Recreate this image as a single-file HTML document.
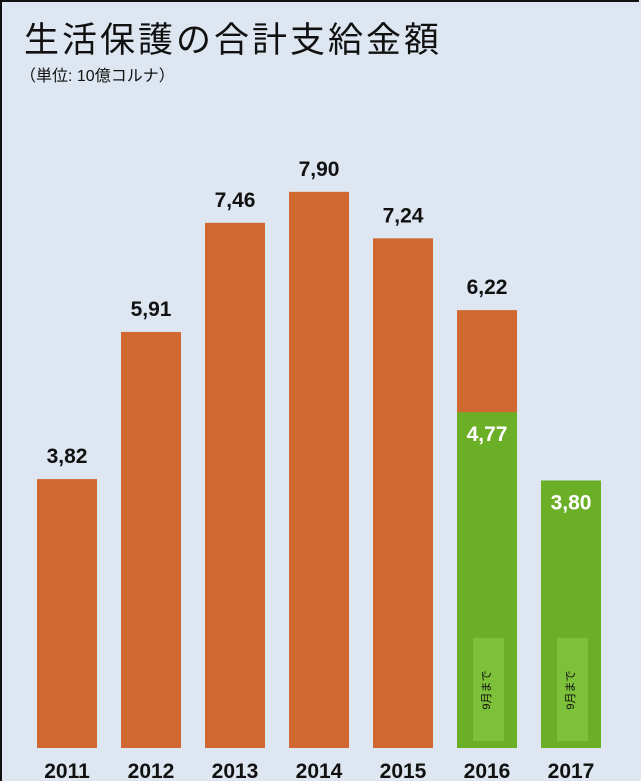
<!DOCTYPE html>
<html><head><meta charset="utf-8"><style>
body{margin:0;width:641px;height:781px;overflow:hidden;background:#dde6f1;font-family:"Liberation Sans","Noto Sans CJK JP",sans-serif}
#frame{position:absolute;left:0;top:0;width:639px;height:781px;border-left:2px solid #111;border-top:2px solid #111;box-sizing:border-box}
#title{position:absolute;left:24px;top:12px;font-size:35px;color:#111;letter-spacing:3px}
#unit{position:absolute;left:20px;top:62px;font-size:16px;color:#111}
</style></head><body>
<div id="frame"></div>
<div id="title">生活保護の合計支給金額</div>
<div id="unit">（単位: 10億コルナ）</div>
<svg id="chart" width="641" height="781" style="position:absolute;left:0;top:0"></svg>
<script>
const years=["2011","2012","2013","2014","2015","2016","2017"];
const totals=[3.82,5.91,7.46,7.90,7.24,6.22,null];
const partial=[null,null,null,null,null,4.77,3.80];
const labels=["3,82","5,91","7,46","7,90","7,24","6,22",null];
const partialLabels=[null,null,null,null,null,"4,77","3,80"];
const ns="http://www.w3.org/2000/svg";
const svg=document.getElementById('chart');
const base=748,scale=70.4,x0=37,step=84,bw=60;
const y=v=>base-v*scale;
const xb=i=>x0+i*step;
function mk(t,a){const e=document.createElementNS(ns,t);for(const k in a)e.setAttribute(k,a[k]);svg.appendChild(e);return e;}
years.forEach((yr,i)=>{
  if(totals[i]!=null){
    const r=mk('rect',{x:xb(i),y:y(totals[i]),width:bw,height:totals[i]*scale,fill:'#d06832'});
    
    
    const t=mk('text',{x:xb(i)+bw/2,y:y(totals[i])-16,'text-anchor':'middle','font-size':'21','font-weight':'bold',fill:'#111'});
    t.textContent=labels[i];
    
    
  }
  if(partial[i]!=null){
    const r=mk('rect',{x:xb(i),y:y(partial[i]),width:bw,height:partial[i]*scale,fill:'#6aaf25'});
    
    
    const t=mk('text',{x:xb(i)+bw/2,y:y(partial[i])+29,'text-anchor':'middle','font-size':'21','font-weight':'bold',fill:'#fff'});
    t.textContent=partialLabels[i];
    
    
    const n=mk('rect',{x:xb(i)+16,y:638,width:31,height:103,fill:'#7dc03a'});
    
    
    const cx=xb(i)+bw/2,cy=690;
    const nt=mk('text',{x:cx,y:cy,'text-anchor':'middle','font-size':'11',fill:'#111',transform:`rotate(-90 ${cx} ${cy})`,'dominant-baseline':'middle'});
    nt.textContent='9月まで';
    
    
  }
  const yl=mk('text',{x:xb(i)+bw/2,y:778,'text-anchor':'middle','font-size':'21','font-weight':'bold',fill:'#111'});
  yl.textContent=yr;
  
  
});
</script>
</body></html>
